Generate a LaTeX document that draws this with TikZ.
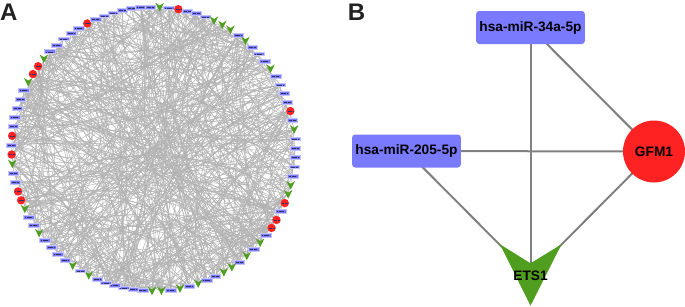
\documentclass[tikz,border=0pt]{standalone}
\usepackage{fontspec}
\setmainfont{Liberation Sans}
\usetikzlibrary{calc}
\definecolor{mirblue}{RGB}{122,122,255}
\definecolor{genered}{RGB}{255,34,34}
\definecolor{tfgreen}{RGB}{80,158,32}
\definecolor{edgegray}{RGB}{178,178,178}
\definecolor{panelink}{RGB}{34,34,34}
\pgfdeclarelayer{edges}
\pgfsetlayers{edges,main}
\begin{document}
\begin{tikzpicture}[x=1pt, y=-1pt,
    bnode/.style={rectangle, fill=mirblue, draw=mirblue!45, line width=0.7, minimum width=10.5, minimum height=3.8, inner sep=0},
    rnode/.style={circle, fill=genered, minimum size=8.4, inner sep=0},
    vnode/.style={rectangle, minimum size=8.4, inner sep=0},
    label mark/.style={draw=mirblue!40!black, line width=0.45, dash pattern=on 0.9 off 0.3},
    net edge/.style={draw=edgegray, line width=0.5},
    bigfont/.style={font=\fontsize{13.7}{16}\selectfont\bfseries},
    mir/.style={rectangle, rounded corners=3, fill=mirblue, minimum width=105, minimum height=33, bigfont},
    link/.style={draw=gray, line width=2}]
  \useasboundingbox (0,0) rectangle (685,306);
  \node[anchor=base west, inner sep=0, text=panelink, font=\fontsize{24}{28}\selectfont\bfseries] (labA) at (0,20.7) {A};
  \node[anchor=base west, inner sep=0, text=panelink, font=\fontsize{24}{28}\selectfont\bfseries] (labB) at (347.6,20.7) {B};

  \foreach \t [count=\i] in {v,b,r,b,b,b,v,v,v,b,v,b,b,b,v,b,b,b,b,r,b,v,b,b,b,b,b,v,v,r,
      b,r,r,b,v,b,v,b,v,v,b,b,v,b,v,b,v,v,b,b,b,b,b,b,v,b,v,b,b,b,
      b,v,b,b,v,r,r,b,b,v,r,b,r,b,b,b,b,b,v,r,r,v,b,b,b,b,b,r,b,b,
      b,b,b,b,b}{
    \node[\t node] (n\i) at ($(153.5,149)+({-87.5+(\i-1)*3.78947}:142)$) {};
    \if\t v \fill[tfgreen, shift={(n\i.center)}] (-4.3,-4.3) -- (0,-1.6) -- (4.3,-4.3) -- (0,4.3) -- cycle; \fi
    \if\t b \draw[label mark] ([xshift=-3.6]n\i.center) -- ([xshift=3.6]n\i.center); \fi
    \if\t r \draw[label mark] ([xshift=-2.6]n\i.center) -- ([xshift=2.6]n\i.center); \fi
  }

  \begin{pgfonlayer}{edges}
    \pgfmathsetseed{17}
    \foreach \k in {1,...,640}{
      \pgfmathrandominteger{\ea}{1}{95}
      \pgfmathrandominteger{\eb}{1}{95}
      \pgfmathsetmacro{\gap}{mod(\eb-\ea+95,95)}
      \pgfmathsetmacro{\bend}{ifthenelse(\gap<47.5,1,-1)*rnd*35}
      \draw[net edge] (n\ea.center) to[bend right=\bend] (n\eb.center);
    }
  \end{pgfonlayer}

  \node[mir] (mir34) at (530.5,27.5) {hsa-miR-34a-5p};
  \node[mir] (mir205) at (406.5,151) {hsa-miR-205-5p};
  \node[circle, fill=genered, minimum size=62, inner sep=0, bigfont] (gfm) at (654,151.5) {GFM1};
  \fill[tfgreen] (500,244.3) -- (530.5,263.3) -- (561.5,244.3) -- (530.5,305.7) -- cycle;
  \node[bigfont, inner sep=0] (ets) at (530.5,275.7) {ETS1};

  \begin{pgfonlayer}{edges}
    \draw[link] (mir34.center) -- (ets.center);
    \draw[link] (mir34.center) -- (gfm.center);
    \draw[link] (mir205.center) -- (gfm.center);
    \draw[link] (mir205.center) -- (ets.center);
    \draw[link] (gfm.center) -- (ets.center);
  \end{pgfonlayer}
\end{tikzpicture}
\end{document}
